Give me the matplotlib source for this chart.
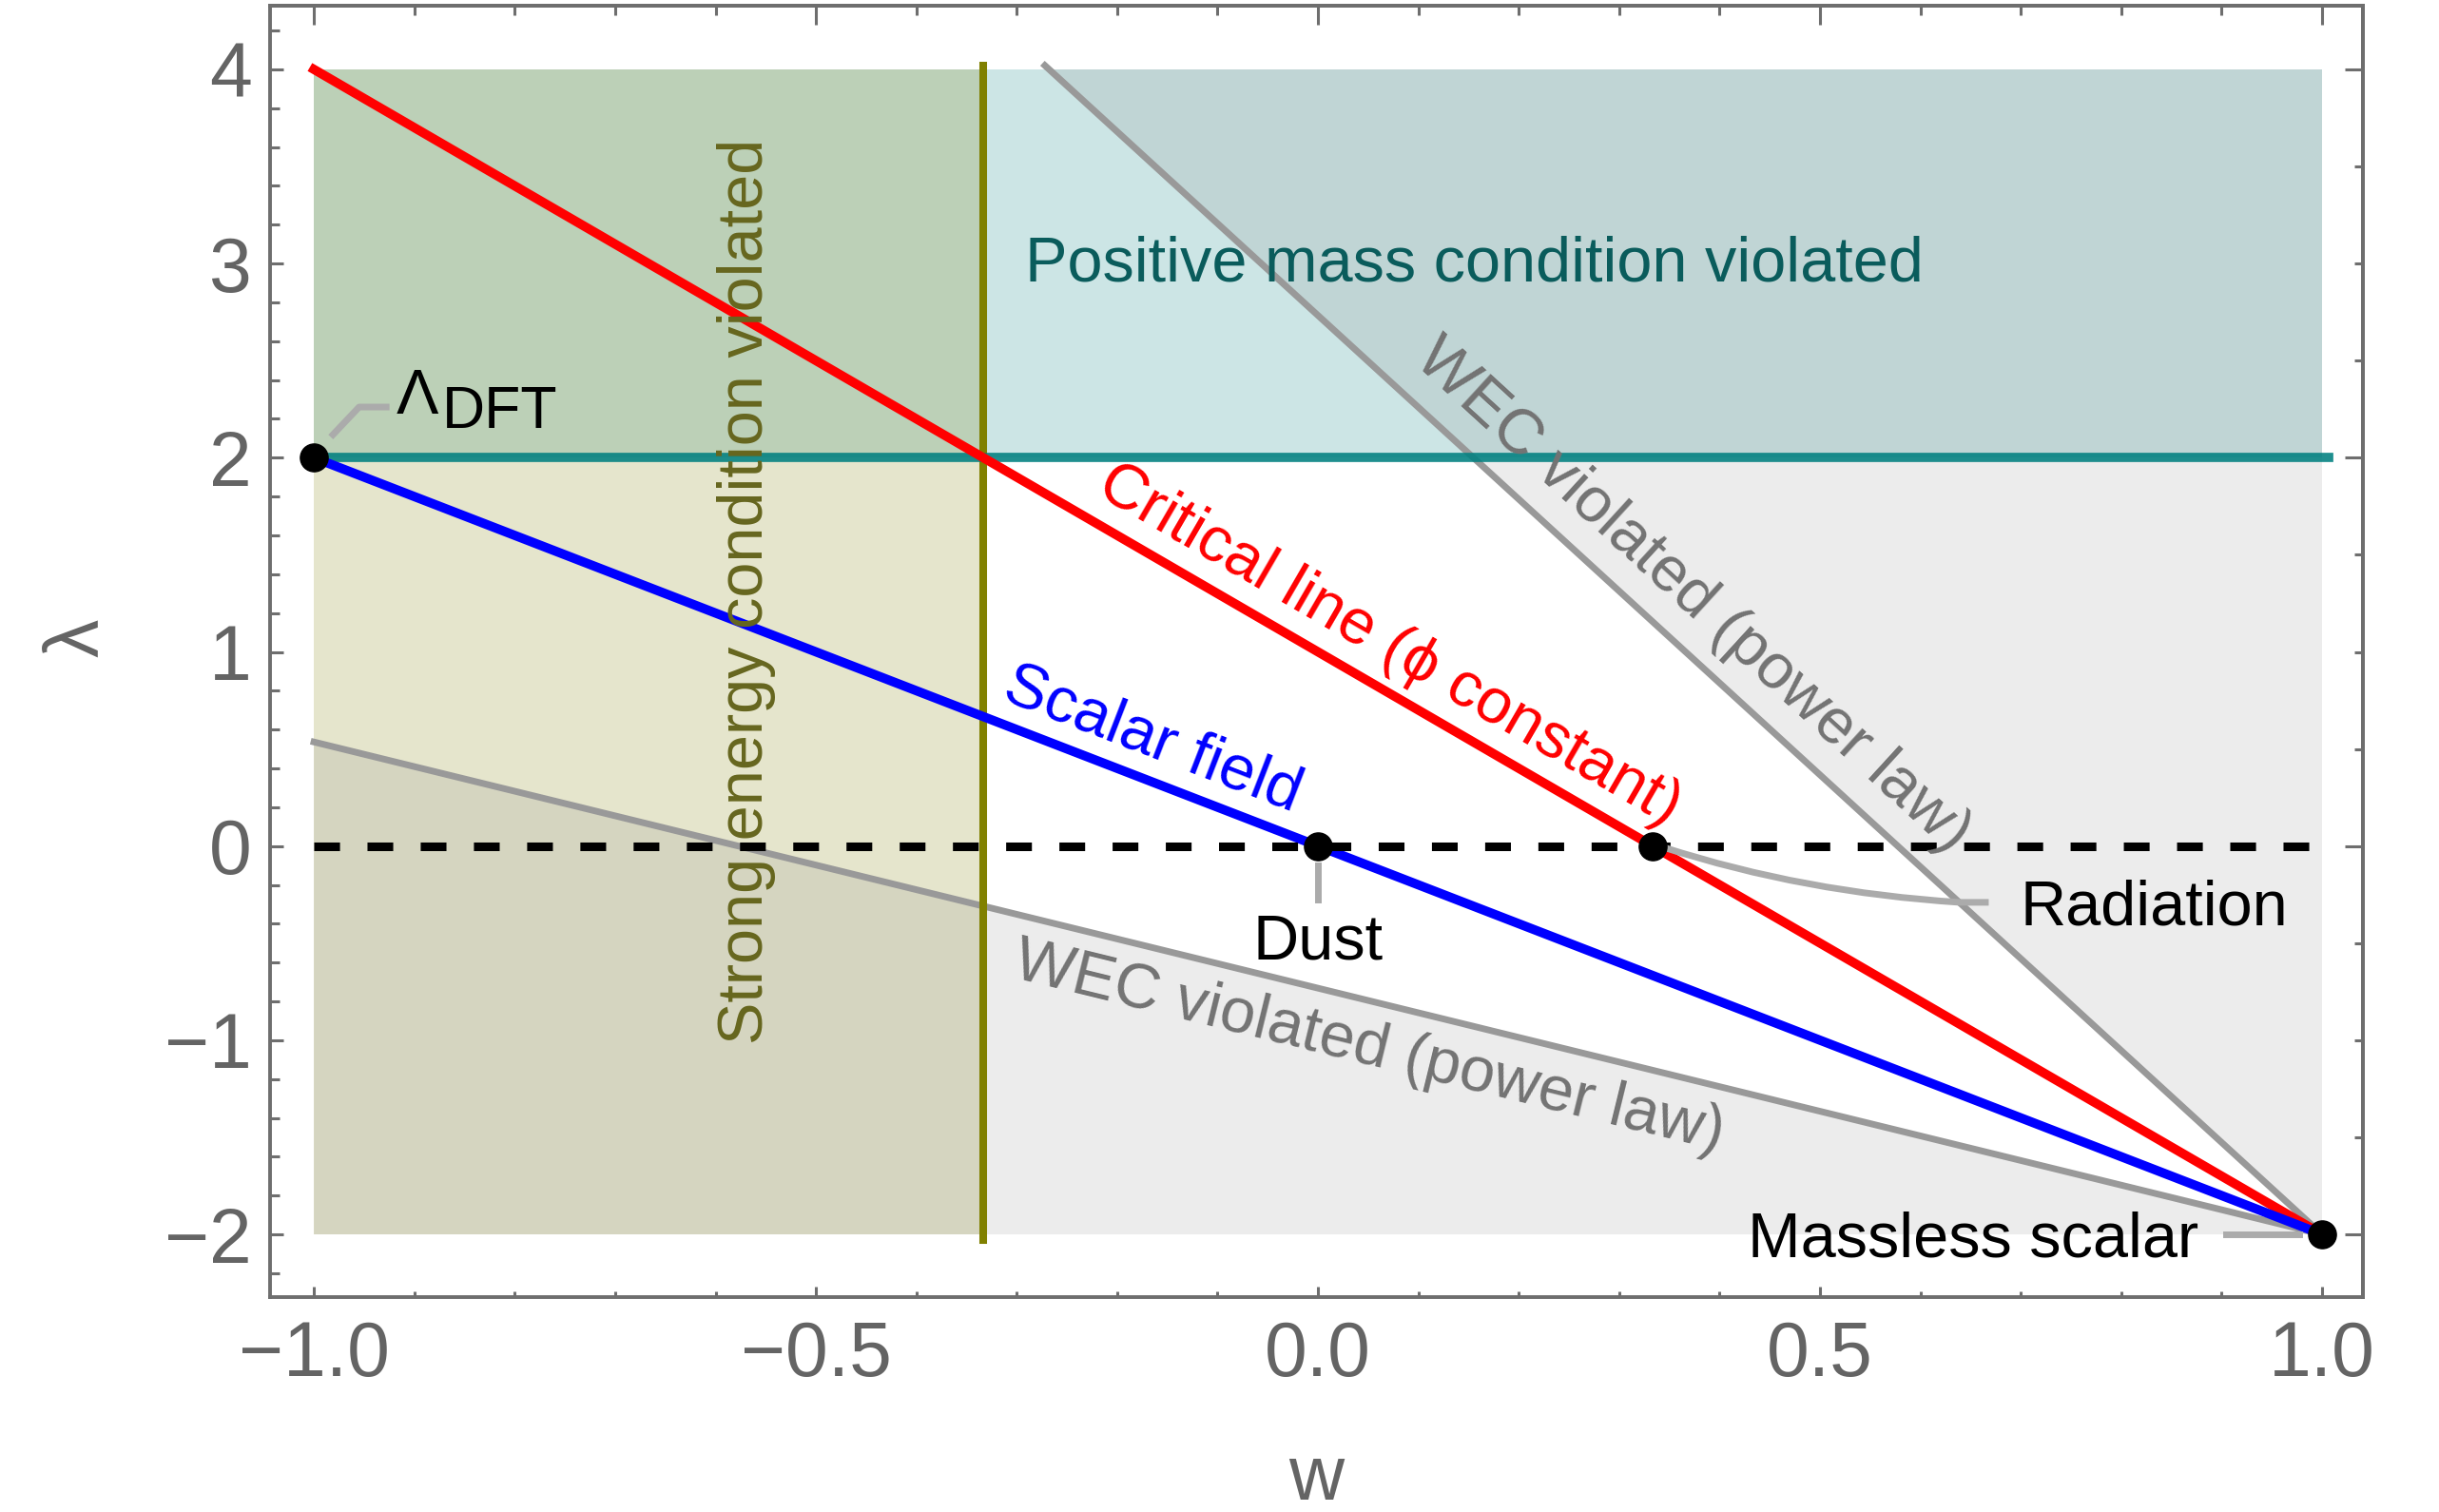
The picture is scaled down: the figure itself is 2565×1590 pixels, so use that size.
import numpy as np
import matplotlib
matplotlib.use("Agg")
import matplotlib.pyplot as plt
from matplotlib.ticker import MultipleLocator
from matplotlib.path import Path
from matplotlib.patches import PathPatch, Rectangle, Polygon

plt.rcParams["font.family"] = ["Liberation Sans", "DejaVu Sans"]

# ---- data ----
w_range = [-1.0, 1.0]
lam_range = [-2.0, 4.0]

critical_w = [-1.0, 1.0]
critical_lam = [4.0, -2.0]          # phi constant
scalar_w = [-1.0, 1.0]
scalar_lam = [2.0, -2.0]
wec_low_w = [-1.0, 1.0]
wec_low_lam = [0.536, -2.0]
wec_up_w = [-0.272, 1.0]
wec_up_lam = [4.02, -2.0]
sec_w = -0.333                      # strong energy condition boundary
sec_lam = [-2.03, 4.02]
pmc_lam = 2.0                       # positive mass condition boundary
pmc_w = [-1.0, 1.007]

pt_names = ["DFT", "Dust", "Radiation", "Massless scalar"]
pt_w = [-1.0, 0.0, 0.3333, 1.0]
pt_lam = [2.0, 0.0, 0.0, -2.0]

x_ticks = [-1.0, -0.5, 0.0, 0.5, 1.0]
y_ticks = [-2, -1, 0, 1, 2, 3, 4]

GRAY_TXT = "#646464"
FRAME = "#6e6e6e"
CALLOUT = "#ababab"

fig = plt.figure(figsize=(25.65, 15.9), dpi=100)
ax = fig.add_axes([284 / 2565, 1 - 1364 / 1590, 2201 / 2565, 1358 / 1590])
ax.set_xlim(-1.0437, 1.0407)
ax.set_ylim(-2.323, 4.328)

# ---- shaded regions ----
ax.add_patch(Rectangle((w_range[0], pmc_lam), w_range[1] - w_range[0], lam_range[1] - pmc_lam,
                       facecolor="#008080", alpha=0.2, lw=0, zorder=1))
ax.add_patch(Rectangle((w_range[0], lam_range[0]), sec_w - w_range[0], lam_range[1] - lam_range[0],
                       facecolor="#808000", alpha=0.2, lw=0, zorder=1.1))
w_top = np.interp(lam_range[1], wec_up_lam[::-1], wec_up_w[::-1])
ax.add_patch(Polygon([(w_top, lam_range[1]), (w_range[1], lam_range[1]), (wec_up_w[1], wec_up_lam[1])],
                     closed=True, facecolor="#808080", alpha=0.15, lw=0, zorder=1.2))
ax.add_patch(Polygon([(wec_low_w[0], wec_low_lam[0]), (wec_low_w[1], wec_low_lam[1]),
                      (w_range[0], lam_range[0])],
                     closed=True, facecolor="#808080", alpha=0.15, lw=0, zorder=1.2))

# ---- lines ----
ax.plot(wec_low_w, wec_low_lam, color="#999999", lw=5.0, zorder=2)
ax.plot(wec_up_w, wec_up_lam, color="#999999", lw=5.0, zorder=2)
ax.plot([sec_w, sec_w], sec_lam, color="#808000", lw=5.8, zorder=3)
ax.plot(pmc_w, [pmc_lam, pmc_lam], color="#008080", lw=7.0, alpha=0.88, zorder=3)
ax.plot(critical_w, critical_lam, color="#ff0000", lw=7.0, zorder=4)
ax.plot(scalar_w, scalar_lam, color="#0000ff", lw=7.0, zorder=4.1)
ax.plot(w_range, [0, 0], color="black", lw=6.5, dashes=(3.0, 3.2), zorder=5)

# ---- callouts ----
ax.plot([-0.981, -0.955, -0.928], [2.119, 2.261, 2.261], color=CALLOUT, lw=5, zorder=6)
ax.plot([0.0, 0.0], [-0.098, -0.275], color=CALLOUT, lw=5, zorder=6)
ax.plot([0.904, 0.977], [-2.0, -2.0], color=CALLOUT, lw=5, zorder=6)
rad = Path([(0.345, -0.008), (0.484, -0.239), (0.639, -0.29), (0.668, -0.29)],
           [Path.MOVETO, Path.CURVE3, Path.CURVE3, Path.LINETO])
ax.add_patch(PathPatch(rad, facecolor="none", edgecolor=CALLOUT, lw=5, zorder=6))

ax.plot(pt_w, pt_lam, "o", color="black", ms=21, zorder=7)

# ---- text ----
def angle_of(ws, ls):
    p = ax.transData.transform(np.column_stack([ws, ls]))
    return np.degrees(np.arctan2(p[1, 1] - p[0, 1], p[1, 0] - p[0, 0]))

fs = 48
ax.text(-0.292, 2.91, "Positive mass condition violated", color="#0a5c5c", fontsize=fs,
        ha="left", va="baseline", zorder=8)
ax.text(-0.553, 1.311, "Strong energy condition violated", color="#66661e", fontsize=fs,
        rotation=90, rotation_mode="anchor", ha="center", va="baseline", zorder=8)
ax.text(0.071, 1.032, "Critical line (\u03d5 constant)", color="#ff0000", fontsize=fs,
        rotation=angle_of(critical_w, critical_lam), rotation_mode="anchor",
        ha="center", va="center", zorder=8)
ax.text(-0.165, 0.545, "Scalar field", color="#0000ff", fontsize=fs,
        rotation=angle_of(scalar_w, scalar_lam), rotation_mode="anchor",
        ha="center", va="center", zorder=8)
ax.text(0.373, 1.287, "WEC violated (power law)", color="#737373", fontsize=fs,
        rotation=angle_of(wec_up_w, wec_up_lam), rotation_mode="anchor",
        ha="center", va="center", zorder=8)
ax.text(0.051, -1.04, "WEC violated (power law)", color="#737373", fontsize=fs,
        rotation=angle_of(wec_low_w, wec_low_lam), rotation_mode="anchor",
        ha="center", va="center", zorder=8)

ax.text(-0.9176, 2.227, "\u039b", fontsize=fs, ha="left", va="baseline", zorder=8)
ax.text(-0.872, 2.154, pt_names[0], fontsize=45, ha="left", va="baseline", zorder=8)
ax.text(0.0, -0.584, pt_names[1], fontsize=fs, ha="center", va="baseline", zorder=8)
ax.text(0.699, -0.407, pt_names[2], fontsize=fs, ha="left", va="baseline", zorder=8)
ax.text(0.877, -2.117, pt_names[3], fontsize=fs, ha="right", va="baseline", zorder=8)

# ---- frame and ticks ----
for s in ax.spines.values():
    s.set_color(FRAME)
    s.set_linewidth(2.8)

ax.set_xticks(x_ticks)
ax.set_yticks(y_ticks)
ax.xaxis.set_minor_locator(MultipleLocator(0.1))
ax.yaxis.set_minor_locator(MultipleLocator(0.2))
ax.tick_params(which="both", direction="in", color=FRAME, width=2.2,
               labelsize=58, labelcolor=GRAY_TXT, top=False, right=False)
ax.tick_params(axis="x", which="major", length=8, pad=17)
ax.tick_params(axis="x", which="minor", length=4.5)
ax.tick_params(axis="y", which="major", length=10, pad=14)
ax.tick_params(axis="y", which="minor", length=7)

top = ax.secondary_xaxis("top")
top.xaxis.set_major_locator(MultipleLocator(0.5))
top.xaxis.set_minor_locator(MultipleLocator(0.1))
top.tick_params(which="both", direction="in", color=FRAME, width=2.2, labeltop=False)
top.tick_params(which="major", length=14.5)
top.tick_params(which="minor", length=7)
top.spines["top"].set_color(FRAME)
top.spines["top"].set_linewidth(2.8)

right = ax.secondary_yaxis("right")
right.yaxis.set_major_locator(MultipleLocator(2))
right.yaxis.set_minor_locator(MultipleLocator(0.5))
right.tick_params(which="both", direction="in", color=FRAME, width=2.2, labelright=False)
right.tick_params(which="major", length=14)
right.tick_params(which="minor", length=6.5)
right.spines["right"].set_color(FRAME)
right.spines["right"].set_linewidth(2.8)

fig.text(1384 / 2565, 1 - 1556 / 1590, "w", fontsize=58, color=GRAY_TXT, ha="center", va="center")
fig.text(82 / 2565, 1 - 671 / 1590, "\u03bb", fontsize=58, color=GRAY_TXT, rotation=90,
         ha="center", va="center")

fig.savefig("out.png", dpi=100)
